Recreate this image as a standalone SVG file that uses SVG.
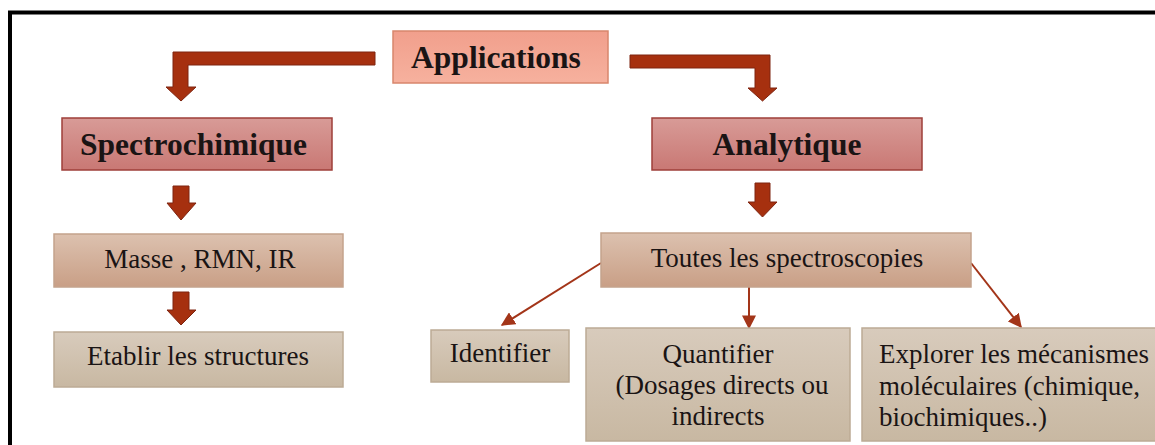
<svg xmlns="http://www.w3.org/2000/svg" width="1155" height="445" viewBox="0 0 1155 445">
<defs>
<linearGradient id="gApp" x1="0" y1="0" x2="0" y2="1"><stop offset="0" stop-color="#f19f8c"/><stop offset="1" stop-color="#f6b19e"/></linearGradient>
<linearGradient id="gCat" x1="0" y1="0" x2="0" y2="1"><stop offset="0" stop-color="#d89b97"/><stop offset="1" stop-color="#c97874"/></linearGradient>
<linearGradient id="gMid" x1="0" y1="0" x2="0" y2="1"><stop offset="0" stop-color="#dcc1af"/><stop offset="1" stop-color="#c99f86"/></linearGradient>
<linearGradient id="gLeaf" x1="0" y1="0" x2="0" y2="1"><stop offset="0" stop-color="#d8cbbc"/><stop offset="1" stop-color="#c8b8a2"/></linearGradient>
<marker id="ah" viewBox="0 0 10 10" refX="9" refY="5" markerWidth="7" markerHeight="7" orient="auto" markerUnits="strokeWidth"><path d="M0,0 L10,5 L0,10 z" fill="#a33519"/></marker>
</defs>
<style>
.t{font-family:"Liberation Serif","Times New Roman",serif;fill:#1a1414;}
.b{font-weight:bold;font-size:31.5px;}
.r{font-size:27px;}
.app{fill:url(#gApp);stroke:#d8866c;stroke-width:1.5;}
.cat{fill:url(#gCat);stroke:#9e3f3a;stroke-width:1.5;}
.mid{fill:url(#gMid);stroke:#c4a38c;stroke-width:1.5;}
.leaf{fill:url(#gLeaf);stroke:#bcab95;stroke-width:1.5;}
.fat{fill:#a6300f;stroke:#7e2410;stroke-width:1;}
.thin{stroke:#a33519;stroke-width:2;fill:none;marker-end:url(#ah);}
</style>
<rect width="1155" height="445" fill="#ffffff"/>
<path d="M10,445 V12.5 H1155" fill="none" stroke="#000" stroke-width="4"/>

<g id="connectors">
<polygon class="fat" points="375,52 173,52 173,87 166,87 181,101 196,87 188,87 188,65 375,65"/>
<polygon class="fat" points="630,55 770,55 770,88 777,88 762.5,101 748,88 755,88 755,68 630,68"/>
<polygon class="fat" points="173,186 189,186 189,203 196,203 181,220 167,203 173,203"/>
<polygon class="fat" points="173,292 189,292 189,310 196,310 181,325 167,310 173,310"/>
<polygon class="fat" points="755,183 770,183 770,202 777,202 762.5,217 748,202 755,202"/>
<line class="thin" x1="601" y1="263" x2="502" y2="325"/>
<line class="thin" x1="749" y1="287" x2="749" y2="328"/>
<line class="thin" x1="971" y1="263" x2="1021" y2="327"/>
</g>

<g id="applications"><rect class="app" x="393" y="31" width="215" height="52"/><text class="t b" x="496" y="68" text-anchor="middle">Applications</text></g>
<g id="spectrochimique"><rect class="cat" x="62" y="118" width="270" height="52"/><text class="t b" x="193.5" y="155" text-anchor="middle">Spectrochimique</text></g>
<g id="analytique"><rect class="cat" x="652" y="118" width="270" height="52"/><text class="t b" x="787" y="155" text-anchor="middle">Analytique</text></g>
<g id="masse"><rect class="mid" x="54" y="234" width="289" height="53"/><text class="t r" x="200" y="268" text-anchor="middle">Masse , RMN, IR</text></g>
<g id="toutes"><rect class="mid" x="601" y="233" width="370" height="54"/><text class="t r" x="787" y="267" text-anchor="middle">Toutes les spectroscopies</text></g>
<g id="etablir"><rect class="leaf" x="54" y="332" width="289" height="55"/><text class="t r" x="198" y="365" text-anchor="middle">Etablir les structures</text></g>
<g id="identifier"><rect class="leaf" x="431" y="330" width="138" height="52"/><text class="t r" x="500" y="362" text-anchor="middle">Identifier</text></g>
<g id="quantifier"><rect class="leaf" x="586" y="328" width="264" height="113"/><text class="t r" text-anchor="middle"><tspan x="718" y="363">Quantifier</tspan><tspan x="722" y="394">(Dosages directs ou</tspan><tspan x="718" y="425">indirects</tspan></text></g>
<g id="explorer"><rect class="leaf" x="862" y="328" width="300" height="113"/><text class="t r"><tspan x="879" y="363">Explorer les mécanismes</tspan><tspan x="879" y="395">moléculaires (chimique,</tspan><tspan x="879" y="426">biochimiques..)</tspan></text></g>
</svg>
